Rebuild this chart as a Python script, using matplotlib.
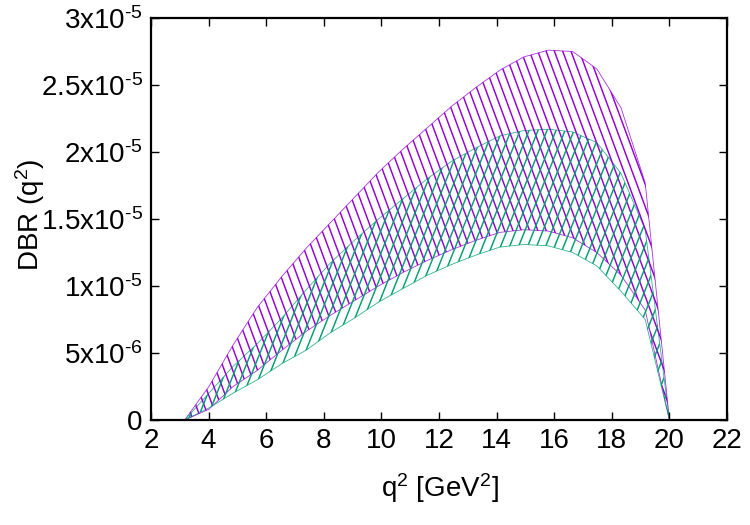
import numpy as np
import matplotlib
matplotlib.use('Agg')
import matplotlib.pyplot as plt
from matplotlib.collections import LineCollection
from matplotlib.patches import Polygon

plt.rcParams['font.family'] = ['Liberation Sans', 'DejaVu Sans']
plt.rcParams['mathtext.fontset'] = 'custom'
plt.rcParams['mathtext.rm'] = 'Liberation Sans'
plt.rcParams['mathtext.it'] = 'Liberation Sans'
plt.rcParams['mathtext.default'] = 'regular'

# q^2 grid and band edges (units of 1e-5)
q2 = [3.17, 4.01, 4.85, 5.69, 6.54, 7.38, 8.22, 9.06, 9.90, 10.74, 11.59,
      12.43, 13.27, 14.11, 14.95, 15.79, 16.64, 17.48, 18.32, 19.16, 20.0]
purple_hi = [0, 0.25, 0.56, 0.84, 1.07, 1.28, 1.47, 1.66, 1.85, 2.02, 2.18,
             2.34, 2.48, 2.61, 2.71, 2.76, 2.75, 2.62, 2.33, 1.77, 0]
purple_lo = [0, 0.08, 0.25, 0.37, 0.52, 0.66, 0.78, 0.89, 1.00, 1.10, 1.19,
             1.27, 1.34, 1.40, 1.42, 1.41, 1.36, 1.25, 1.08, 0.82, 0]
green_hi = [0, 0.20, 0.40, 0.57, 0.76, 0.97, 1.17, 1.34, 1.50, 1.65, 1.80,
            1.93, 2.03, 2.12, 2.16, 2.17, 2.15, 2.07, 1.84, 1.42, 0]
green_lo = [0, 0.09, 0.20, 0.30, 0.42, 0.52, 0.65, 0.76, 0.88, 0.98, 1.08,
            1.16, 1.23, 1.29, 1.31, 1.30, 1.25, 1.15, 0.96, 0.75, 0]

xticks = list(range(2, 23, 2))
yticks = [0, 0.5e-5, 1e-5, 1.5e-5, 2e-5, 2.5e-5, 3e-5]
ylabels = ['0', r'5x10$^{\text{-6}}$', r'1x10$^{\text{-5}}$',
           r'1.5x10$^{\text{-5}}$', r'2x10$^{\text{-5}}$',
           r'2.5x10$^{\text{-5}}$', r'3x10$^{\text{-5}}$']

fig = plt.figure(figsize=(7.5, 5.25), dpi=100)
ax = fig.add_axes([151/750, 1 - 420/525, 576/750, 402/525])
W, H = 576.0, 402.0  # axes size in pixels


def hatch_band(x, lo, hi, color, slope, step, sign):
    x = np.asarray(x)
    lo = np.asarray(lo) * 1e-5
    hi = np.asarray(hi) * 1e-5
    verts = np.column_stack([np.r_[x, x[::-1]], np.r_[hi, lo[::-1]]])
    poly = Polygon(verts, closed=True, facecolor='none', edgecolor=color,
                   lw=0.6, alpha=0.8)
    ax.add_patch(poly)
    run = H / slope
    segs = []
    for c in np.arange(-run - step, W + run + step, step):
        segs.append([(c / W, 0), ((c + sign * run) / W, 1)])
    lc = LineCollection(segs, colors=color, linewidths=1.05,
                        transform=ax.transAxes)
    ax.add_collection(lc, autolim=False)
    lc.set_clip_path(poly)


hatch_band(q2, purple_lo, purple_hi, '#9400d3', 2.7, 8.3, -1)
hatch_band(q2, green_lo, green_hi, '#009e73', 2.5, 9.0, 1)

ax.set_xlim(2, 22)
ax.set_ylim(0, 3e-5)
ax.set_xticks(xticks)
ax.set_xticklabels([str(t) for t in xticks])
ax.set_yticks(yticks)
ax.set_yticklabels(ylabels)
ax.tick_params(direction='in', length=6, width=1, top=True, right=True,
               labelsize=20, pad=6)
for s in ax.spines.values():
    s.set_linewidth(1.6)

fig.text(30/750, 1 - 215/525, 'DBR (q$^2$)', rotation=90, ha='center',
         va='center', fontsize=20)
fig.text(440/750, 1 - 488/525, 'q$^2$ [GeV$^2$]', ha='center', va='center',
         fontsize=20)

fig.savefig('out.png', dpi=100)
